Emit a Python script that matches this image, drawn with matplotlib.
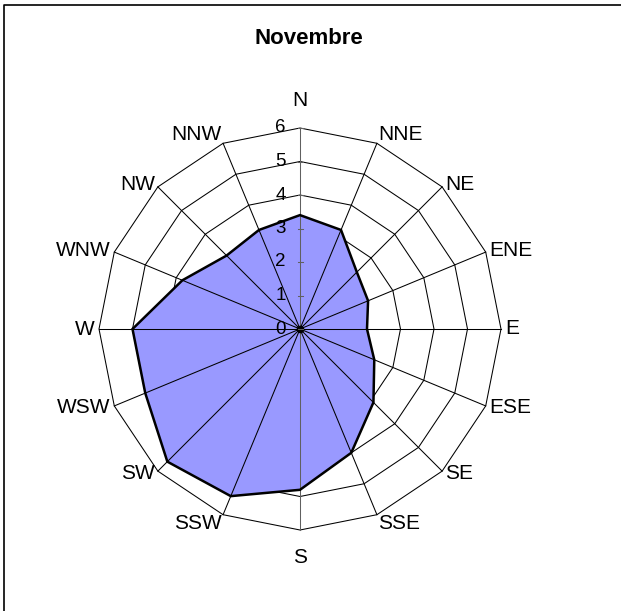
import numpy as np
import matplotlib
matplotlib.use('Agg')
import matplotlib.pyplot as plt
from matplotlib.patches import Polygon

directions = ['N', 'NNE', 'NE', 'ENE', 'E', 'ESE', 'SE', 'SSE',
              'S', 'SSW', 'SW', 'WSW', 'W', 'WNW', 'NW', 'NNW']
values = [3.4, 3.2, 2.4, 2.2, 2.0, 2.4, 3.1, 4.0,
          4.8, 5.4, 5.6, 5.0, 5.0, 3.8, 3.1, 3.2]
rings = [1, 2, 3, 4, 5, 6]
tick_values = [0, 1, 2, 3, 4, 5, 6]
title = 'Novembre'

plt.rcParams['font.family'] = ['Liberation Sans', 'DejaVu Sans']

W, H = 621, 611
cx, cy, unit = 300, 329, 33.5   # centre of the radar and pixels per unit

fig = plt.figure(figsize=(W / 100, H / 100), dpi=100)
ax = fig.add_axes([0, 0, 1, 1])
ax.set_xlim(-cx / unit, (W - cx) / unit)
ax.set_ylim(-(H - cy) / unit, cy / unit)
ax.axis('off')

theta = np.arange(len(directions)) * 2 * np.pi / len(directions)
sx, sy = np.sin(theta), np.cos(theta)
rmax = rings[-1]

# ring gridlines (behind the fill)
for r in rings:
    ax.add_patch(Polygon(np.column_stack([r * sx, r * sy]), closed=True,
                         fill=False, ec='black', lw=0.75, zorder=1))

# series
v = np.array(values)
pts = np.column_stack([v * sx, v * sy])
ax.add_patch(Polygon(pts, closed=True, fc='#9999FF', lw=0, zorder=2))

# spokes drawn over the fill
for i in range(len(directions)):
    c = '#606060' if i in (0, 8) else 'black'
    ax.plot([0, rmax * sx[i]], [0, rmax * sy[i]], color=c, lw=0.75, zorder=3)
# spokes meet in a dark blob at the centre
ax.plot([0], [0], 'o', ms=4.5, color='black', zorder=3)

ax.add_patch(Polygon(pts, closed=True, fill=False, ec='black', lw=1.8,
                     joinstyle='miter', zorder=4))

# value axis ticks and labels
tk = 2.5 / unit
for t in tick_values:
    ax.plot([-tk, tk], [t, t], color='#606060', lw=0.75, zorder=3)
    ax.text(-0.42, t, str(t), ha='right', va='center', fontsize=13.5, zorder=5)

# category labels
R = 6.12
for i, name in enumerate(directions):
    ha = 'left' if sx[i] > 0.1 else ('right' if sx[i] < -0.1 else 'center')
    dy = np.sign(sy[i]) * abs(sy[i]) ** 20 * 23 / unit
    ax.text(R * sx[i], R * sy[i] + dy, name, ha=ha, va='center', fontsize=15)

fig.text(309 / W, 1 - 38 / H, title, ha='center', va='center',
         fontsize=16, fontweight='bold')

# chart frame (only left and top edges fall inside the image)
fx, fy = 3.5 / W, 1 - 5 / H
fig.add_artist(plt.Line2D([fx, fx, 1], [0, fy, fy], transform=fig.transFigure,
                          color='black', lw=1.2))

fig.savefig('out.png', dpi=100)
